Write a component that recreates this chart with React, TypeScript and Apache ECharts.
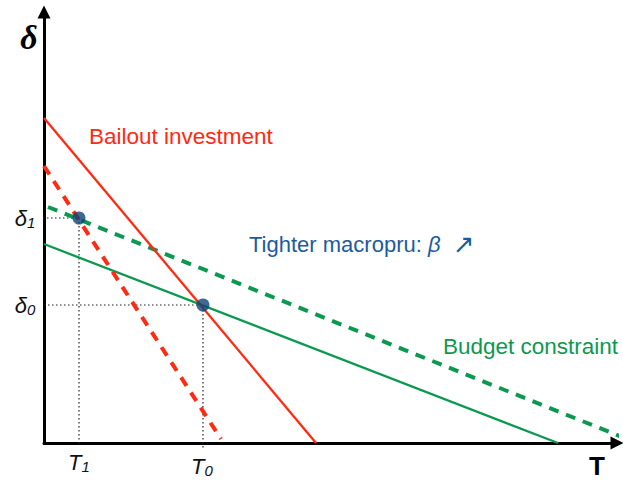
import React, { useEffect, useRef } from "react";
import * as echarts from "echarts";

// Data units: x = T (0..573), y = delta (0..431)
const bailout: number[][] = [[0, 325], [272, 0]];
const bailoutTight: number[][] = [[0, 277], [177, 4]];
const budget: number[][] = [[0, 199], [514, 0]];
const budgetTight: number[][] = [[4, 236], [578, 6]];
const equilibria: number[][] = [[35, 225], [159, 138]];
const guideT1: number[][] = [[-5, 225], [35, 225], [35, -3]];
const guideT0: number[][] = [[-4, 138], [159, 138], [159, -6]];

const RED = "#ff2a12";
const GREEN = "#0b9950";
const DOT = "#0b4577";
const BLUE_TXT = "#1b5c9e";

export default function App() {
  const ref = useRef<HTMLDivElement>(null);
  useEffect(() => {
    const chart = echarts.init(ref.current!, null, { renderer: "svg" });
    const sub = (main: string, s: string) => ({
      text: `{a|${main}}{b|${s}}`,
      rich: {
        a: { fontFamily: "Liberation Sans", fontStyle: "italic", fontSize: 22, fill: "#111" },
        b: { fontFamily: "Liberation Sans", fontStyle: "italic", fontSize: 15, fill: "#111", padding: [9, 0, 0, 0] },
      },
    });
    const axisLine = { show: true, onZero: true, lineStyle: { color: "#000", width: 3 }, symbol: ["none", "triangle"], symbolSize: [13, 13] };
    chart.setOption({
      animation: false,
      grid: { left: 44, right: 6, top: 12, bottom: 37 },
      xAxis: {
        type: "value", min: 0, max: 573,
        axisLine,
        axisTick: { show: false }, axisLabel: { show: false }, splitLine: { show: false },
      },
      yAxis: {
        type: "value", min: 0, max: 431,
        axisLine,
        axisTick: { show: false }, axisLabel: { show: false }, splitLine: { show: false },
      },
      series: [
        { type: "line", data: guideT1, symbol: "none", clip: false, lineStyle: { color: "#222", width: 1.2, type: [1.5, 2.5] } },
        { type: "line", data: guideT0, symbol: "none", clip: false, lineStyle: { color: "#222", width: 1.2, type: [1.5, 2.5] } },
        { type: "line", data: budget, symbol: "none", clip: false, lineStyle: { color: GREEN, width: 2.3 } },
        { type: "line", data: budgetTight, symbol: "none", clip: false, lineStyle: { color: GREEN, width: 4, type: [10, 8] } },
        { type: "line", data: bailout, symbol: "none", clip: false, lineStyle: { color: RED, width: 2.3 } },
        { type: "line", data: bailoutTight, symbol: "none", clip: false, lineStyle: { color: RED, width: 4, type: [10, 8] } },
        { type: "scatter", data: equilibria, symbolSize: 13, itemStyle: { color: DOT }, z: 5 },
      ],
      graphic: [
        { type: "text", x: 29, y: 37, style: { text: "δ", fontFamily: "Liberation Serif", fontStyle: "italic", fontWeight: "bold", fontSize: 34, fill: "#000", align: "center", verticalAlign: "middle" } },
        { type: "text", x: 597, y: 466, style: { text: "T", fontFamily: "Liberation Sans", fontWeight: "bold", fontSize: 26, fill: "#000", align: "center", verticalAlign: "middle" } },
        { type: "text", x: 25, y: 218, style: { ...sub("δ", "1"), align: "center", verticalAlign: "middle" } },
        { type: "text", x: 25, y: 305, style: { ...sub("δ", "0"), align: "center", verticalAlign: "middle" } },
        { type: "text", x: 79, y: 462, style: { ...sub("T", "1"), align: "center", verticalAlign: "middle" } },
        { type: "text", x: 202, y: 466, style: { ...sub("T", "0"), align: "center", verticalAlign: "middle" } },
        { type: "text", x: 89, y: 136, style: { text: "Bailout investment", fontFamily: "Liberation Sans", fontSize: 22.5, fill: RED, verticalAlign: "middle" } },
        { type: "text", x: 443, y: 346, style: { text: "Budget constraint", fontFamily: "Liberation Sans", fontSize: 22.5, fill: GREEN, verticalAlign: "middle" } },
        {
          type: "text", x: 249, y: 244,
          style: {
            text: "{a|Tighter macropru: }{b|β}{a|  }{c|↗}",
            verticalAlign: "middle",
            rich: {
              a: { fontFamily: "Liberation Sans", fontSize: 22, fill: BLUE_TXT },
              b: { fontFamily: "Liberation Sans", fontStyle: "italic", fontSize: 22, fill: BLUE_TXT },
              c: { fontFamily: "DejaVu Sans", fontSize: 26, fill: BLUE_TXT },
            },
          },
        },
      ],
    });
    return () => chart.dispose();
  }, []);
  return <div ref={ref} style={{ position: "fixed", left: 0, top: 0, width: 623, height: 480, background: "#fff" }} />;
}
